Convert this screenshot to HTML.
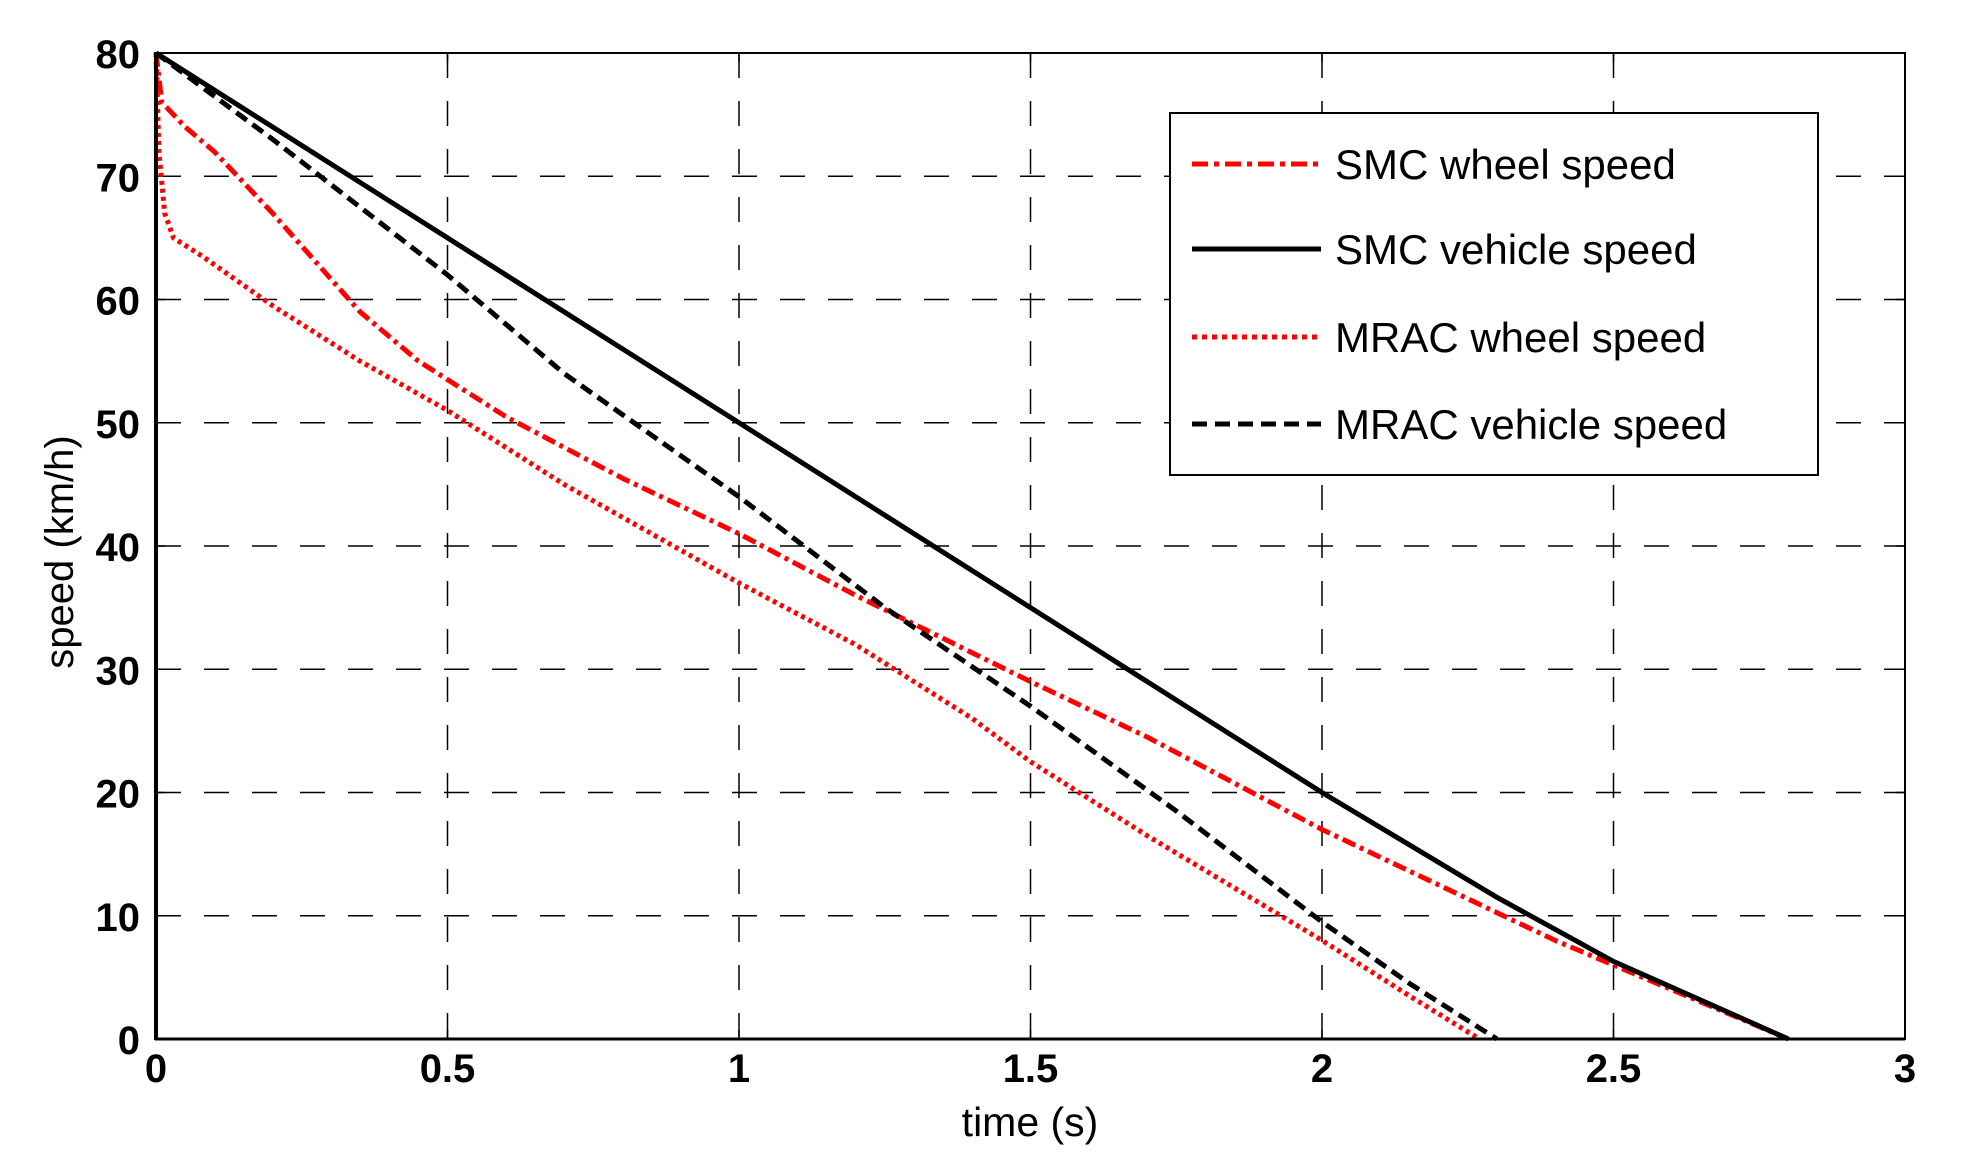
<!DOCTYPE html>
<html><head><meta charset="utf-8"><style>
html,body{margin:0;padding:0;background:#fff;width:1966px;height:1164px;overflow:hidden}
svg{display:block}
text{font-family:"Liberation Sans",Arial,sans-serif}
</style></head><body>
<svg id="s" width="1966" height="1164" xmlns="http://www.w3.org/2000/svg">
<g id="grid" stroke="#000" stroke-width="1.5" stroke-dasharray="25,23" fill="none"></g>
<g id="ticks" stroke="#000" stroke-width="1.5"></g>
<g id="lbl" font-weight="bold" font-size="40" fill="#000"></g>
<g id="data" fill="none" stroke-linejoin="round"></g>
<rect x="156" y="53" width="1749" height="986" fill="none" stroke="#000" stroke-width="2"/>
<line x1="156" y1="52" x2="156" y2="1040" stroke="#000" stroke-width="4"/>
<line x1="155" y1="1039" x2="1905" y2="1039" stroke="#000" stroke-width="3"/>
<rect x="1170" y="113" width="648" height="362" fill="#fff" stroke="#000" stroke-width="2"/>
<line x1="1192" y1="164" x2="1321" y2="164" stroke="#f00" stroke-width="5" stroke-dasharray="16,6,5,6"/>
<line x1="1192" y1="249" x2="1321" y2="249" stroke="#000" stroke-width="5"/>
<line x1="1192" y1="337" x2="1321" y2="337" stroke="#f00" stroke-width="5" stroke-dasharray="5,5"/>
<line x1="1192" y1="424" x2="1321" y2="424" stroke="#000" stroke-width="5" stroke-dasharray="15,8"/>
<g font-size="42" fill="#000">
<text x="1335" y="179">SMC wheel speed</text>
<text x="1335" y="264">SMC vehicle speed</text>
<text x="1335" y="352">MRAC wheel speed</text>
<text x="1335" y="439">MRAC vehicle speed</text>
<text x="1030" y="1136" text-anchor="middle" font-size="41">time (s)</text>
<text transform="translate(73,552) rotate(-90)" text-anchor="middle" font-size="40">speed (km/h)</text>
</g>
</svg>
<script>
var X0=156,XS=583,Y0=1039,YS=12.325,NS="http://www.w3.org/2000/svg";
function px(t){return X0+t*XS}function py(v){return Y0-v*YS}
function el(p,n,a){var e=document.createElementNS(NS,n);for(var k in a)e.setAttribute(k,a[k]);document.getElementById(p).appendChild(e);return e}
for(var i=1;i<6;i++){var x=px(i*0.5);el("grid","line",{x1:x,y1:53,x2:x,y2:1039});}
for(var j=1;j<8;j++){var y=py(j*10);el("grid","line",{x1:156,y1:y,x2:1905,y2:y});}
for(var i=0;i<=6;i++){var x=px(i*0.5);el("ticks","line",{x1:x,y1:1039,x2:x,y2:1030});el("ticks","line",{x1:x,y1:53,x2:x,y2:62});
var t=el("lbl","text",{x:x,y:1082,"text-anchor":"middle"});t.textContent=["0","0.5","1","1.5","2","2.5","3"][i];}
for(var j=0;j<=8;j++){var y=py(j*10);el("ticks","line",{x1:156,y1:y,x2:165,y2:y});el("ticks","line",{x1:1905,y1:y,x2:1896,y2:y});
var t=el("lbl","text",{x:140,y:y+15,"text-anchor":"end"});t.textContent=String(j*10);}
function line(pts,c,d){var s=pts.map(function(p){return px(p[0]).toFixed(1)+","+py(p[1]).toFixed(1)}).join(" ");
var a={points:s,stroke:c,"stroke-width":5};if(d)a["stroke-dasharray"]=d;el("data","polyline",a);}
line([[0,80],[0.005,72],[0.015,67],[0.03,65],[0.08,63.5],[0.2,59.5],[0.35,55],[0.5,51],[0.7,45],[1,37],[1.2,32],[1.4,26],[1.5,22.5],[1.7,16.5],[2,8],[2.15,3.5],[2.27,0]],"#f00","4,4");
line([[0,80],[0.01,76],[0.05,74],[0.1,72],[0.2,67],[0.35,59],[0.45,55],[0.5,53.5],[0.6,50.5],[0.8,45.5],[1,41],[1.2,36],[1.35,32.5],[1.5,29],[1.7,24.5],[2,17],[2.2,12.5],[2.4,8],[2.6,4],[2.8,0]],"#f00","14,5,4,5");
line([[0,80],[0.2,73],[0.5,62],[0.7,54],[1,44],[1.25,35],[1.5,27],[1.75,18.5],[2,9.5],[2.15,4.5],[2.3,0]],"#000","13,7");
line([[0,80],[2,20],[2.3,11.5],[2.5,6.3],[2.8,0]],"#000");
</script>
</body></html>
